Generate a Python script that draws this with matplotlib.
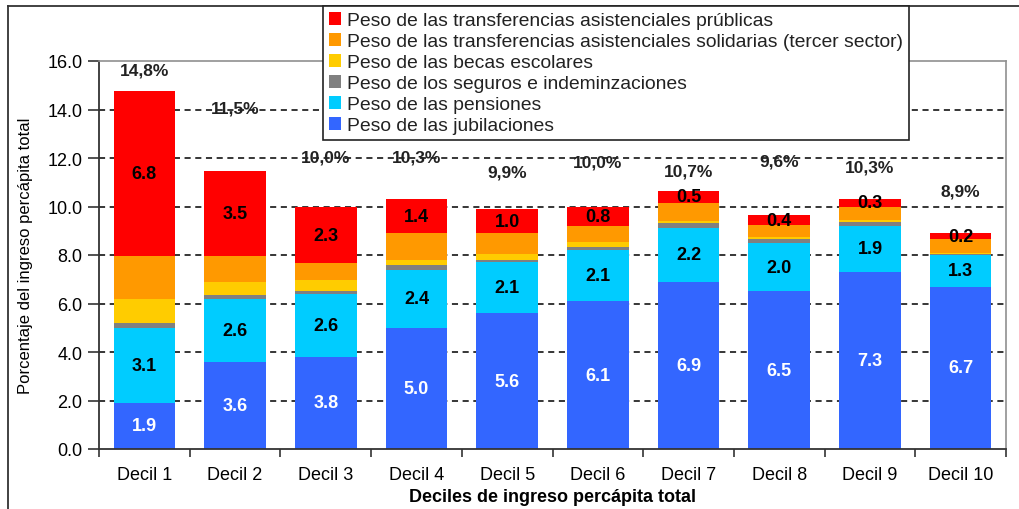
import matplotlib
matplotlib.use("Agg")
import matplotlib.pyplot as plt
from matplotlib.lines import Line2D
from matplotlib.patches import Patch
import numpy as np

plt.rcParams['font.family'] = ['Liberation Sans', 'DejaVu Sans']

categories = ["Decil 1", "Decil 2", "Decil 3", "Decil 4", "Decil 5",
              "Decil 6", "Decil 7", "Decil 8", "Decil 9", "Decil 10"]

jubilaciones = [1.9, 3.6, 3.8, 5.0, 5.6, 6.1, 6.9, 6.5, 7.3, 6.7]
pensiones = [3.1, 2.6, 2.6, 2.4, 2.1, 2.1, 2.2, 2.0, 1.9, 1.3]
seguros = [0.2, 0.15, 0.12, 0.2, 0.1, 0.12, 0.2, 0.15, 0.17, 0.06]
becas = [1.0, 0.55, 0.45, 0.2, 0.25, 0.23, 0.1, 0.08, 0.07, 0.04]
solidarias = [1.75, 1.05, 0.7, 1.1, 0.85, 0.65, 0.75, 0.5, 0.56, 0.55]
publicas = [6.8, 3.5, 2.3, 1.4, 1.0, 0.8, 0.5, 0.4, 0.3, 0.25]
totals = [14.8, 11.5, 10.0, 10.3, 9.9, 10.0, 10.7, 9.6, 10.3, 8.9]

series_names = [
    "Peso de las jubilaciones",
    "Peso de las pensiones",
    "Peso de los seguros e indeminzaciones",
    "Peso de las becas escolares",
    "Peso de las transferencias asistenciales solidarias (tercer sector)",
    "Peso de las transferencias asistenciales prúblicas",
]
series_values = [jubilaciones, pensiones, seguros, becas, solidarias, publicas]
colors = ["#3366FF", "#00CCFF", "#808080", "#FFCC00", "#FF9900", "#FF0000"]
labelled = [True, True, False, False, False, True]
label_colors = ["white", "black", "black", "black", "black", "black"]

# layout: vertical offset of the total label above each bar top
pct_offset = [0.87, 2.6, 2.08, 1.74, 1.52, 1.83, 0.8, 2.23, 1.33, 1.74]

fig = plt.figure(figsize=(10.2, 5.1), dpi=100)
ax = fig.add_axes([99/1020, 60/510, (1006-99)/1020, (450-62)/510])

x = np.arange(len(categories))
bottom = np.zeros(len(categories))
for vals, col, lab, lc in zip(series_values, colors, labelled, label_colors):
    vals = np.array(vals)
    ax.bar(x, vals, width=0.68, bottom=bottom, color=col, edgecolor='none', zorder=2)
    if lab:
        for xi, b, v in zip(x, bottom, vals):
            ax.text(xi, b + v / 2, f"{v:.1f}", ha='center', va='center',
                    fontsize=13, fontweight='bold', color=lc, zorder=4)
    bottom = bottom + vals

for xi, top, t, off in zip(x, bottom, totals, pct_offset):
    ax.text(xi, top + off, f"{t:.1f}%".replace('.', ','), ha='center', va='center',
            fontsize=12.5, fontweight='bold', color='#222222', zorder=4)

ax.set_xlim(-0.5, len(categories) - 0.5)
ax.set_ylim(0, 16)
ax.set_yticks(np.arange(0, 16.1, 2))
ax.set_yticklabels([f"{v:.1f}" for v in np.arange(0, 16.1, 2)], fontsize=13)
for yv in np.arange(2, 15, 2):
    ax.axhline(yv, color='black', linestyle=(0, (4, 3)), linewidth=1.1, zorder=1)

ax.set_xticks(np.arange(-0.5, len(categories), 1))
ax.set_xticklabels([])
ax.set_xticks(x, minor=True)
ax.set_xticklabels(categories, minor=True, fontsize=13)
ax.tick_params(axis='x', which='minor', length=0, pad=12)
ax.tick_params(axis='x', which='major', length=6, width=1.2, direction='out', color='#333333')
ax.tick_params(axis='y', length=8, width=1.2, direction='out', color='#333333', pad=4)

for s in ['left', 'bottom']:
    ax.spines[s].set_color('#333333')
    ax.spines[s].set_linewidth(1.3)
for s in ['top', 'right']:
    ax.spines[s].set_color('#909090')
    ax.spines[s].set_linewidth(1.2)

ax.set_ylabel("Porcentaje del ingreso percápita total", fontsize=12, labelpad=10)
ax.set_xlabel("Deciles de ingreso percápita total", fontsize=13, fontweight='bold', labelpad=4)

handles = [Patch(facecolor=c, edgecolor='none') for c in colors][::-1]
leg = fig.legend(handles, series_names[::-1], loc='upper left',
                 bbox_to_anchor=(323/1020, 1 - 7/510), fontsize=13.9,
                 frameon=True, fancybox=False, framealpha=1, edgecolor='#222222',
                 handlelength=0.65, handleheight=0.65, handletextpad=0.3,
                 labelspacing=0.2, borderpad=0.3, borderaxespad=0)
leg.get_frame().set_linewidth(1.2)
for t in leg.get_texts():
    t.set_color('#222222')
leg.set_zorder(10)

# outer chart border (partially visible)
fig.add_artist(Line2D([8/1020, 8/1020], [0, 1 - 7/510], color='#333333', linewidth=1.3))
fig.add_artist(Line2D([8/1020, 1], [1 - 7/510, 1 - 7/510], color='#333333', linewidth=1.3))

fig.savefig("out.png", dpi=100)
